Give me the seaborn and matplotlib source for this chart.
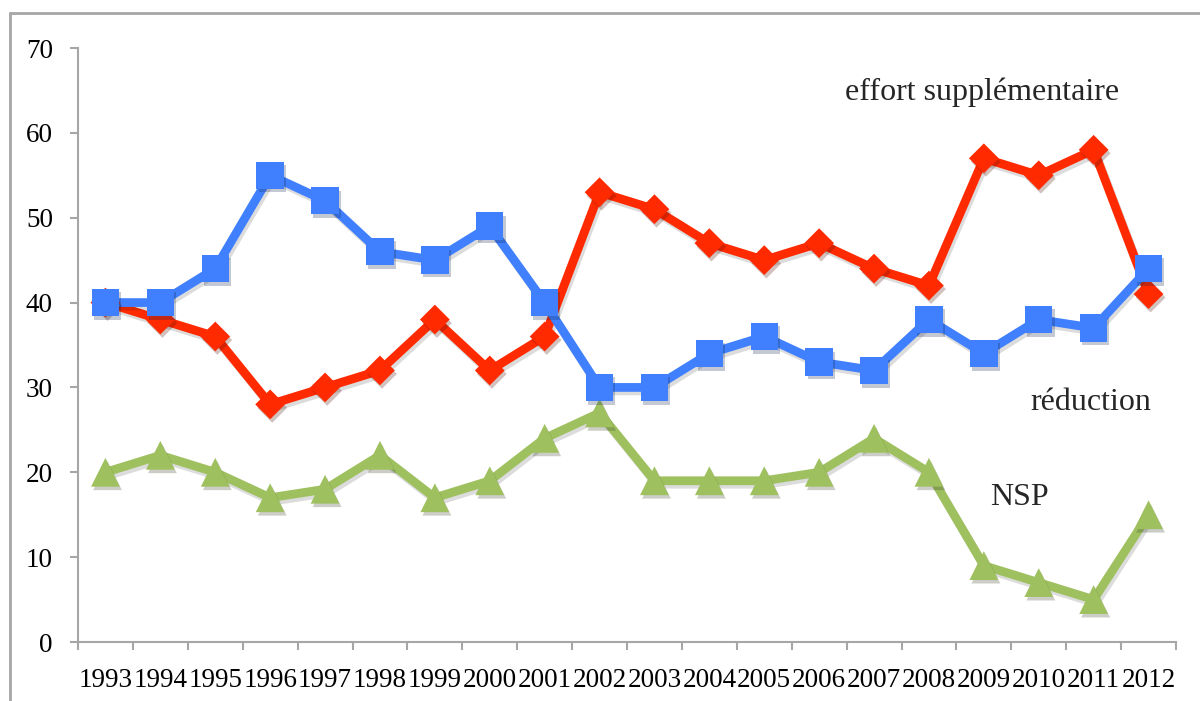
import matplotlib
matplotlib.use("Agg")
import matplotlib.pyplot as plt
import matplotlib.patheffects as pe
from matplotlib.lines import Line2D
import seaborn as sns
import pandas as pd

years = [str(y) for y in range(1993, 2013)]
effort = [40, 38, 36, 28, 30, 32, 38, 32, 36, 53, 51, 47, 45, 47, 44, 42, 57, 55, 58, 41]
reduction = [40, 40, 44, 55, 52, 46, 45, 49, 40, 30, 30, 34, 36, 33, 32, 38, 34, 38, 37, 44]
nsp = [20, 22, 20, 17, 18, 22, 17, 19, 24, 27, 19, 19, 19, 20, 24, 20, 9, 7, 5, 15]
yticks = [0, 10, 20, 30, 40, 50, 60, 70]

sns.set_theme(style="white")
plt.rcParams["font.family"] = ["Liberation Serif", "DejaVu Serif"]

fig = plt.figure(figsize=(12, 7.01), dpi=100)
ax = fig.add_axes([78 / 1200, 1 - 642 / 701, (1176 - 78) / 1200, (642 - 48) / 701])

df = pd.DataFrame({"year": years, "effort": effort, "reduction": reduction, "nsp": nsp})
df["x"] = range(len(years))

series = [
    ("nsp", "#9FC05F", "^", 430),
    ("effort", "#FF2A00", "D", 230),
    ("reduction", "#4080FF", "s", 390),
]
for col, color, marker, size in series:
    sns.lineplot(data=df, x="x", y=col, ax=ax, color=color, linewidth=6.3, zorder=2,
                 path_effects=[pe.SimpleLineShadow(offset=(1.5, -2.5), alpha=0.15), pe.Normal()])
    sc = sns.scatterplot(data=df, x="x", y=col, ax=ax, color=color, marker=marker, s=size,
                         linewidth=0, zorder=3)
    sc.collections[-1].set_path_effects([pe.SimplePatchShadow(offset=(1.5, -2.5), alpha=0.25),
                                         pe.Normal()])

ax.set_xlim(-0.5, len(years) - 0.5)
ax.set_ylim(0, 70)
ax.set_yticks(yticks)
ax.set_yticklabels([str(v) for v in yticks])
ax.set_xticks([i - 0.5 for i in range(len(years) + 1)])
ax.set_xticklabels([])
ax.set_xticks(range(len(years)), minor=True)
ax.set_xticklabels(years, minor=True)
ax.set_xlabel("")
ax.set_ylabel("")

gray = "#A6A6A6"
for s in ["top", "right"]:
    ax.spines[s].set_visible(False)
for s in ["left", "bottom"]:
    ax.spines[s].set_color(gray)
    ax.spines[s].set_linewidth(1.5)
ax.tick_params(axis="both", which="major", length=6, width=1.5, color=gray,
               direction="out", labelsize=19.5, labelcolor="black")
ax.tick_params(axis="y", which="major", left=True, pad=12)
ax.tick_params(axis="x", which="major", bottom=True)
ax.tick_params(axis="x", which="minor", length=0, labelsize=19.5, pad=19, labelcolor="black")

ax.text(13.47, 64.8, "effort supplémentaire", fontsize=23, ha="left", va="center")
ax.text(16.84, 28.2, "réduction", fontsize=23, ha="left", va="center")
ax.text(16.11, 17.0, "NSP", fontsize=23, ha="left", va="center")

# outer frame (partially visible)
fx = 10 / 1200
fy = 1 - 13 / 701
fig.add_artist(Line2D([fx, fx], [0, fy], transform=fig.transFigure, color=gray, lw=2))
fig.add_artist(Line2D([fx, 1], [fy, fy], transform=fig.transFigure, color=gray, lw=2))

fig.savefig("out.png", dpi=100)
